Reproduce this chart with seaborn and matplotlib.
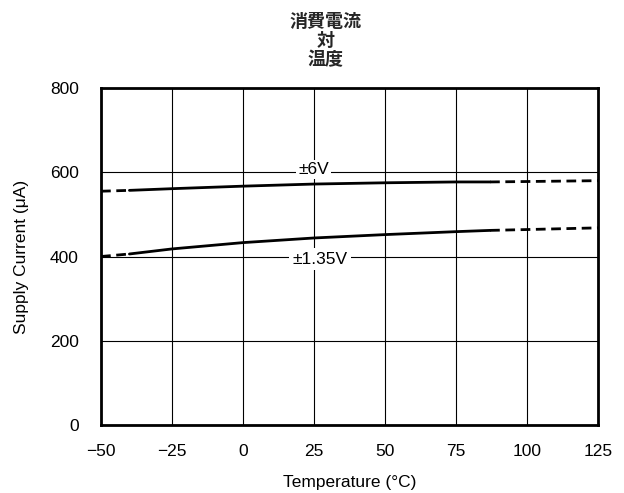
import matplotlib
matplotlib.use("Agg")
import matplotlib.pyplot as plt
import seaborn as sns
import pandas as pd

sns.set_theme(style="white")
plt.rcParams['font.family'] = ['Liberation Sans', 'Noto Sans CJK JP', 'DejaVu Sans']

# Data
temp_solid_6 = [-40, -25, 0, 25, 50, 75, 87]
curr_solid_6 = [557, 561, 567, 572, 575, 577, 577]
temp_dash_6_lo = [-50, -40]
curr_dash_6_lo = [555, 557]
temp_dash_6_hi = [87, 100, 125]
curr_dash_6_hi = [577, 578, 580]

temp_solid_135 = [-40, -25, 0, 25, 50, 75, 87]
curr_solid_135 = [406, 418, 433, 444, 452, 459, 462]
temp_dash_135_lo = [-50, -40]
curr_dash_135_lo = [400, 406]
temp_dash_135_hi = [87, 100, 125]
curr_dash_135_hi = [462, 464, 468]

x_ticks = [-50, -25, 0, 25, 50, 75, 100, 125]
x_ticklabels = ['\u221250', '\u221225', '0', '25', '50', '75', '100', '125']
y_ticks = [0, 200, 400, 600, 800]

fig = plt.figure(figsize=(6.24, 4.93), dpi=100)
ax = fig.add_axes([0.1619, 0.1379, 0.7964, 0.6836])

segments = [
    (temp_solid_6, curr_solid_6, '-'),
    (temp_dash_6_lo, curr_dash_6_lo, (0, (3.5, 2))),
    (temp_dash_6_hi, curr_dash_6_hi, (0, (3.5, 2))),
    (temp_solid_135, curr_solid_135, '-'),
    (temp_dash_135_lo, curr_dash_135_lo, (0, (3.5, 2))),
    (temp_dash_135_hi, curr_dash_135_hi, (0, (3.5, 2))),
]
for xs, ys, ls in segments:
    df = pd.DataFrame({'t': xs, 'i': ys})
    sns.lineplot(data=df, x='t', y='i', ax=ax, color='black', linewidth=2.0,
                 linestyle=ls, zorder=3)

ax.set_xlim(-50, 125)
ax.set_ylim(0, 800)
ax.set_xticks(x_ticks)
ax.set_xticklabels(x_ticklabels)
ax.set_yticks(y_ticks)
ax.grid(True, color='black', linewidth=0.8)
ax.tick_params(axis='x', length=0, labelsize=12.5, colors='black', pad=14)
ax.tick_params(axis='y', length=0, labelsize=12.5, colors='black', pad=16)
for s in ax.spines.values():
    s.set_color('black')
    s.set_linewidth(2.0)
    s.set_visible(True)

ax.set_xlabel('Temperature (\u00b0C)', fontsize=12.5, color='black', labelpad=11)
ax.set_ylabel('Supply Current (\u03bcA)', fontsize=12.5, color='black', labelpad=15)

ax.text(24.8, 607, '\u00b16V', ha='center', va='center', fontsize=12.5,
        color='black', bbox=dict(facecolor='white', edgecolor='none', pad=1.5), zorder=4)
ax.text(27, 393, '\u00b11.35V', ha='center', va='center', fontsize=12.5,
        color='black', bbox=dict(facecolor='white', edgecolor='none', pad=2.5), zorder=4)

fig.text(0.522, 0.976, '消費電流\n対\n温度', ha='center', va='top', fontsize=13,
         fontweight='bold', linespacing=1.0,
         family=['Noto Sans CJK JP', 'DejaVu Sans'])

fig.savefig('out.png', dpi=100)
